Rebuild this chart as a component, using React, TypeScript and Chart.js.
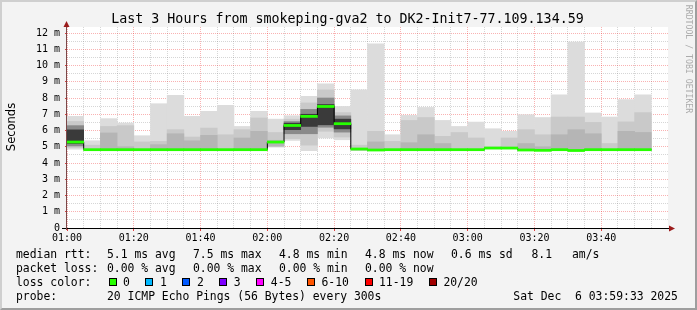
import React, { useEffect, useRef } from 'react';
import { Chart, registerables } from 'chart.js';

Chart.register(...registerables);

// ---- data (minutes after 01:00, milliseconds) ----
const binStartMin = [0, 5, 10, 15, 20, 25, 30, 35, 40, 45, 50, 55, 60, 65, 70, 75, 80, 85, 90, 95, 100, 105, 110, 115, 120, 125, 130, 135, 140, 145, 150, 155, 160, 165, 170];
const binWidthMin = 5;

const medianRtt = [5.29, 4.82, 4.82, 4.82, 4.82, 4.82, 4.82, 4.82, 4.82, 4.82, 4.82, 4.82, 5.29, 6.31, 6.87, 7.48, 6.42, 4.86, 4.8, 4.82, 4.82, 4.82, 4.82, 4.82, 4.82, 4.92, 4.92, 4.8, 4.78, 4.82, 4.77, 4.82, 4.82, 4.82, 4.82];

const smokeMin = [4.85, 4.76, 4.78, 4.78, 4.78, 4.78, 4.78, 4.78, 4.78, 4.78, 4.78, 4.78, 4.98, 5.39, 4.76, 5.54, 5.43, 4.78, 4.76, 4.76, 4.78, 4.78, 4.78, 4.78, 4.78, 4.88, 4.88, 4.78, 4.76, 4.78, 4.75, 4.78, 4.78, 4.78, 4.78];
const smokeMax = [6.87, 5.37, 6.73, 6.46, 5.68, 7.65, 8.16, 6.87, 7.18, 7.55, 6.25, 7.18, 6.7, 6.91, 8.1, 8.88, 7.48, 8.51, 11.34, 5.74, 6.93, 7.42, 6.62, 6.25, 6.52, 6.11, 5.95, 6.97, 6.8, 8.2, 11.44, 7.08, 6.83, 7.9, 8.2];

const band2Lo = [4.95, 4.78, 4.78, 4.78, 4.78, 4.78, 4.78, 4.78, 4.78, 4.78, 4.78, 4.78, 5.0, 5.5, 5.1, 5.95, 5.6, 4.78, 4.78, 4.78, 4.78, 4.78, 4.78, 4.78, 4.78, 4.88, 4.88, 4.78, 4.78, 4.78, 4.78, 4.78, 4.78, 4.78, 4.78];
const band2Hi = [6.56, 5.1, 6.25, 6.3, 5.3, 5.33, 6.05, 5.6, 6.15, 5.74, 6.05, 6.77, 5.88, 6.7, 7.7, 8.5, 7.1, 5.1, 5.95, 5.33, 6.62, 6.8, 5.64, 5.88, 5.54, 5.0, 5.54, 6.05, 5.74, 6.83, 6.83, 6.5, 5.2, 6.53, 7.1];

const band3Lo = [5.05, null, 4.78, 4.78, null, 4.78, 4.78, 4.78, 4.78, null, 4.78, 4.78, 5.05, 5.8, 5.8, 6.2, 5.9, null, 4.78, null, 4.78, 4.78, 4.78, null, null, null, null, 4.78, 4.78, 4.78, 4.78, 4.78, null, 4.78, 4.78];
const band3Hi = [6.3, null, 5.85, 5.0, null, 5.13, 5.8, 5.37, 5.7, null, 5.54, 5.95, 5.4, 6.55, 7.3, 8.0, 6.9, null, 5.3, null, 5.25, 5.74, 5.2, null, null, null, null, 5.2, 5.0, 5.74, 6.05, 5.8, null, 5.95, 5.88];

const band4Lo = [5.2, null, null, null, null, null, null, null, null, null, null, null, null, 6.05, 6.25, 6.35, 6.1, null, null, null, null, null, null, null, null, null, null, null, null, null, null, null, null, null, null];
const band4Hi = [6.04, null, null, null, null, null, null, null, null, null, null, null, null, 6.45, 7.0, 7.6, 6.7, null, null, null, null, null, null, null, null, null, null, null, null, null, null, null, null, null, null];

const yTickValues = [0, 0.5, 1, 1.5, 2, 2.5, 3, 3.5, 4, 4.5, 5, 5.5, 6, 6.5, 7, 7.5, 8, 8.5, 9, 9.5, 10, 10.5, 11, 11.5, 12];
const xTickMinutes = [0, 5, 10, 15, 20, 25, 30, 35, 40, 45, 50, 55, 60, 65, 70, 75, 80, 85, 90, 95, 100, 105, 110, 115, 120, 125, 130, 135, 140, 145, 150, 155, 160, 165, 170, 175];
const xMajorLabels = ['01:00', '01:20', '01:40', '02:00', '02:20', '02:40', '03:00', '03:20', '03:40'];

const titleText = 'Last 3 Hours from smokeping-gva2 to DK2-Init7-77.109.134.59';
const rttStats = ['5.1 ms avg', '7.5 ms max', '4.8 ms min', '4.8 ms now', '0.6 ms sd', '8.1', 'am/s'];
const lossStats = ['0.00 % avg', '0.00 % max', '0.00 % min', '0.00 % now'];
const lossLabels = ['0', '1', '2', '3', '4-5', '6-10', '11-19', '20/20'];
const lossColors = ['#26ff00', '#00b8ff', '#0059ff', '#7e00ff', '#ff00ff', '#ff5500', '#ff0000', '#a10000'];
const probeText = '20 ICMP Echo Pings (56 Bytes) every 300s';
const dateText = 'Sat Dec  6 03:59:33 2025';

// ---- layout/style ----
const statCols = [107, 193, 279, 365, 451, 531.5, 572];
const MONO = '"DejaVu Sans Mono", monospace';
const RED_GRID = 'rgba(235,0,0,0.3)';
const GREY_GRID = 'rgba(120,120,120,0.3)';

const bandData = (lo: (number | null)[], hi: (number | null)[]) =>
  binStartMin.map((t, i) => ({ x: t + binWidthMin / 2, y: lo[i] == null || hi[i] == null ? null : [lo[i], hi[i]] }));

const rrdPlugin = {
  id: 'rrdDecor',
  beforeDraw(chart: any) {
    const { ctx, chartArea: a } = chart;
    ctx.save();
    ctx.fillStyle = '#ffffff';
    ctx.fillRect(a.left, a.top, a.right - a.left, a.bottom - a.top);
    ctx.restore();
  },
  afterDraw(chart: any) {
    const { ctx, chartArea: a } = chart;
    ctx.save();
    ctx.lineWidth = 1;
    ctx.strokeStyle = '#000000';
    ctx.beginPath();
    ctx.moveTo(a.left - 5, a.bottom + 0.5);
    ctx.lineTo(a.right + 2, a.bottom + 0.5);
    ctx.stroke();
    ctx.strokeStyle = '#7a4848';
    ctx.beginPath();
    ctx.moveTo(a.left - 0.5, a.bottom + 2);
    ctx.lineTo(a.left - 0.5, a.top - 1);
    ctx.stroke();
    ctx.fillStyle = '#9b1b1b';
    ctx.beginPath();
    ctx.moveTo(a.left - 0.5, a.top - 6);
    ctx.lineTo(a.left - 3.5, a.top);
    ctx.lineTo(a.left + 2.5, a.top);
    ctx.closePath();
    ctx.fill();
    ctx.beginPath();
    ctx.moveTo(a.right + 7, a.bottom + 0.5);
    ctx.lineTo(a.right + 1, a.bottom - 2.5);
    ctx.lineTo(a.right + 1, a.bottom + 3.5);
    ctx.closePath();
    ctx.fill();
    ctx.restore();
  },
};

export default function App() {
  const canvasRef = useRef<HTMLCanvasElement | null>(null);

  useEffect(() => {
    document.body.style.margin = '0';
    const canvas = canvasRef.current;
    if (!canvas) return;
    const barCommon = { type: 'bar' as const, borderWidth: 0, barPercentage: 1, categoryPercentage: 1 };
    const hasCore = (i: number) => band4Lo[i] != null;
    const lastIdx = binStartMin.length - 1;
    const chart = new Chart(canvas, {
      type: 'bar',
      data: {
        datasets: [
          {
            ...barCommon,
            order: 0,
            data: binStartMin.map((t, i) => ({ x: t + binWidthMin / 2, y: [medianRtt[i] - 0.065, medianRtt[i] + 0.065] })),
            backgroundColor: '#26ff00',
          } as any,
          {
            type: 'line',
            order: 1,
            data: binStartMin
              .map((t, i) => ({ x: t, y: medianRtt[i] }))
              .concat([{ x: binStartMin[lastIdx] + binWidthMin, y: medianRtt[lastIdx] }]),
            borderColor: '#000000',
            borderWidth: 1,
            pointRadius: 0,
            fill: false,
            stepped: true,
          } as any,
          { ...barCommon, order: 2, data: bandData(band4Lo, band4Hi), backgroundColor: '#3a3a3a' } as any,
          {
            ...barCommon,
            order: 3,
            data: bandData(band3Lo, band3Hi),
            backgroundColor: (c: any) => (hasCore(c.dataIndex) ? '#8a8a8a' : '#b5b5b5'),
          } as any,
          { ...barCommon, order: 4, data: bandData(band2Lo, band2Hi), backgroundColor: '#c9c9c9' } as any,
          { ...barCommon, order: 5, data: bandData(smokeMin, smokeMax), backgroundColor: '#dcdcdc' } as any,
        ],
      },
      options: {
        animation: false,
        responsive: false,
        events: [],
        layout: { padding: { left: 0, top: 27, right: 29, bottom: 62 } },
        plugins: { legend: { display: false }, tooltip: { enabled: false }, title: { display: false } },
        scales: {
          x: {
            type: 'linear',
            min: 0,
            max: 180,
            offset: false,
            stacked: true,
            z: 1,
            afterBuildTicks: (s: any) => {
              s.ticks = xTickMinutes.map((v) => ({ value: v }));
            },
            afterFit: (s: any) => {
              s.height = 20;
            },
            grid: {
              offset: false,
              lineWidth: 1,
              color: (c: any) => (c.tick && c.tick.value % 20 === 0 ? RED_GRID : GREY_GRID),
              tickLength: 3,
              tickColor: (c: any) => (c.tick && c.tick.value % 20 === 0 ? '#e04040' : 'rgba(0,0,0,0)'),
            },
            border: { display: false, dash: [1, 1] },
            ticks: {
              autoSkip: false,
              maxRotation: 0,
              minRotation: 0,
              padding: 1,
              color: '#000000',
              font: { family: MONO, size: 10 },
              callback: (v: any) => (Number(v) % 20 === 0 ? xMajorLabels[Number(v) / 20] ?? '' : ''),
            },
          } as any,
          y: {
            type: 'linear',
            min: 0,
            max: 12.37,
            z: 1,
            afterBuildTicks: (s: any) => {
              s.ticks = yTickValues.map((v) => ({ value: v }));
            },
            afterFit: (s: any) => {
              s.width = 67;
            },
            grid: {
              lineWidth: 1,
              color: (c: any) => (c.tick && Number.isInteger(c.tick.value) ? RED_GRID : GREY_GRID),
              tickLength: 2,
              tickColor: (c: any) => (c.tick && Number.isInteger(c.tick.value) ? '#e04040' : 'rgba(0,0,0,0)'),
            },
            border: { display: false, dash: [1, 1] },
            ticks: {
              autoSkip: false,
              padding: 5,
              color: '#000000',
              font: { family: MONO, size: 10 },
              callback: (v: any) => (Number.isInteger(Number(v)) ? (Number(v) === 0 ? '0' : `${v} m`) : ''),
            },
          } as any,
        },
      },
      plugins: [rrdPlugin],
    } as any);
    return () => chart.destroy();
  }, []);

  const textStyle = (left: number, centerY: number): React.CSSProperties => ({
    position: 'absolute',
    left,
    top: centerY - 7,
    lineHeight: '14px',
    fontSize: 11.4,
    fontFamily: MONO,
    color: '#000',
    whiteSpace: 'pre',
  });

  return (
    <div
      style={{
        position: 'absolute',
        left: 0,
        top: 0,
        width: 697,
        height: 310,
        background: '#f3f3f3',
        overflow: 'hidden',
      }}
    >
      <canvas ref={canvasRef} width={697} height={310} style={{ position: 'absolute', left: 0, top: 0, width: 697, height: 310 }} />
      <div
        style={{
          position: 'absolute',
          inset: 0,
          boxSizing: 'border-box',
          borderTop: '2px solid #cfcfcf',
          borderLeft: '2px solid #cfcfcf',
          borderBottom: '2px solid #9e9e9e',
          borderRight: '2px solid #9e9e9e',
          pointerEvents: 'none',
        }}
      />
      <div
        style={{
          position: 'absolute',
          left: 0,
          width: 695,
          top: 12,
          lineHeight: '14px',
          textAlign: 'center',
          fontFamily: MONO,
          fontSize: 13.3,
          color: '#000',
          whiteSpace: 'pre',
        }}
      >
        {titleText}
      </div>
      <div
        style={{
          position: 'absolute',
          left: 11,
          top: 127,
          transform: 'translate(-50%, -50%) rotate(-90deg)',
          fontFamily: '"DejaVu Sans", sans-serif',
          fontSize: 11.5,
          lineHeight: '12px',
          color: '#000',
          whiteSpace: 'pre',
        }}
      >
        Seconds
      </div>
      <div
        style={{
          position: 'absolute',
          left: 688,
          top: 59,
          transform: 'translate(-50%, -50%) rotate(90deg)',
          fontFamily: MONO,
          fontSize: 8.2,
          lineHeight: '9px',
          color: '#ababab',
          whiteSpace: 'pre',
        }}
      >
        RRDTOOL / TOBI OETIKER
      </div>

      <div style={textStyle(16, 254.3)}>median rtt:</div>
      {rttStats.map((s, i) => (
        <div key={'r' + i} style={textStyle(statCols[i], 254.3)}>
          {s}
        </div>
      ))}
      <div style={textStyle(16, 268.3)}>packet loss:</div>
      {lossStats.map((s, i) => (
        <div key={'l' + i} style={textStyle(statCols[i], 268.3)}>
          {s}
        </div>
      ))}
      <div style={textStyle(16, 282.3)}>loss color:</div>
      <div style={{ ...textStyle(108.5, 282.3), display: 'flex', alignItems: 'center' }}>
        {lossLabels.map((lab, i) => (
          <span key={'c' + i} style={{ display: 'inline-flex', alignItems: 'center', marginRight: 15.6 }}>
            <span
              style={{
                display: 'inline-block',
                width: 8,
                height: 8,
                boxSizing: 'border-box',
                border: '1px solid #000',
                background: lossColors[i],
                marginRight: 6.5,
              }}
            />
            <span>{lab}</span>
          </span>
        ))}
      </div>
      <div style={textStyle(16, 295.7)}>probe:</div>
      <div style={textStyle(statCols[0], 295.7)}>{probeText}</div>
      <div style={textStyle(513.3, 295.7)}>{dateText}</div>
    </div>
  );
}
